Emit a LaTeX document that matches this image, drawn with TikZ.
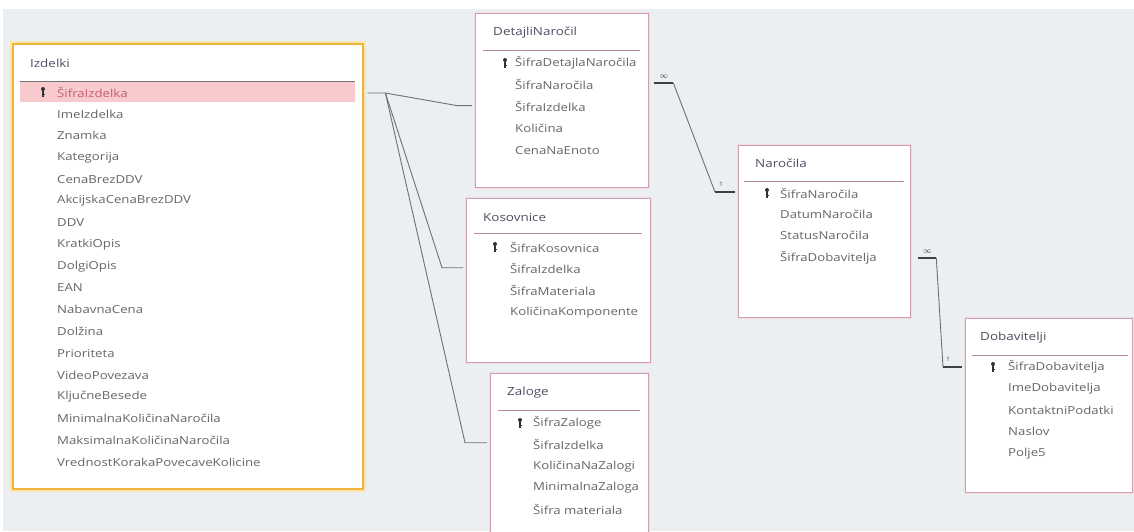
\documentclass[tikz,border=0pt]{standalone}
\usepackage{fontspec}
\setmainfont{Open Sans}
\newfontfamily\widefont[FakeStretch=1.2]{Open Sans}
\usetikzlibrary{calc}
\definecolor{bg}{HTML}{ECEFF2}
\definecolor{txt}{HTML}{666666}
\definecolor{ttl}{HTML}{4E5060}
\definecolor{tborder}{HTML}{CFA0B2}
\definecolor{tglow}{HTML}{F2DDE4}
\definecolor{sep}{HTML}{B88A9A}
\definecolor{oborder}{HTML}{F0B43C}
\definecolor{oglow}{HTML}{FBE6B0}
\definecolor{keyrow}{HTML}{F9CACD}
\definecolor{keytxt}{HTML}{C0606C}
\definecolor{conn}{HTML}{6E7075}
\tikzset{
  tbl/.style={draw=tborder, line width=1.3pt, fill=white, anchor=north west, inner sep=0pt,
    preaction={draw=tglow, line width=3.5pt}},
  otbl/.style={draw=oborder, line width=2.4pt, fill=white, anchor=north west, inner sep=0pt,
    preaction={draw=oglow, line width=6pt}},
  fld/.style={anchor=west, inner sep=0pt, text=txt, font=\widefont\fontsize{11}{12}\selectfont},
  ttlfld/.style={anchor=west, inner sep=0pt, text=ttl, font=\widefont\fontsize{11.2}{12}\selectfont},
  sepline/.style={draw=sep, line width=1pt},
  keyicon/.style={fill=black!80},
  rel/.style={draw=conn, line width=0.9pt},
  stub/.style={draw=black!75, line width=2pt},
  card/.style={inner sep=0pt, text=black!80, font=\fontsize{6}{6}\selectfont}
}
\newcommand{\keyat}[2]{\fill[keyicon] (#1,#2-3) circle (2); \fill[keyicon] (#1-0.7,#2-2) rectangle (#1+0.8,#2+4.5); \fill[keyicon] (#1+0.8,#2+1.5) rectangle (#1+1.8,#2+2.5);}
\begin{document}
\begin{tikzpicture}[x=1pt,y=-1pt]
\useasboundingbox (0,0) rectangle (1134,531);
\fill[white] (0,0) rectangle (1134,531);
\fill[bg] (3,9) rectangle (1134,531);

% ---------------- Izdelki ----------------
\node[otbl, minimum width=350pt, minimum height=445pt] (izdelki) at (12,43) {};
\node[ttlfld] (izdT) at (30,63) {Izdelki};
\fill[keyrow] (20,82) rectangle (355,102);
\draw[draw=black!55, line width=1pt] (20,81) -- (355,81);
\keyat{43}{92}
\node[fld, text=keytxt] (izdk) at (57,92) {ŠifraIzdelka};
\foreach \t [count=\i] in {ImeIzdelka,Znamka,Kategorija,CenaBrezDDV,AkcijskaCenaBrezDDV,DDV,KratkiOpis,DolgiOpis,EAN,NabavnaCena,Dolžina,Prioriteta,VideoPovezava,KljučneBesede,MinimalnaKoličinaNaročila,MaksimalnaKoličinaNaročila,VrednostKorakaPovecaveKolicine}
  {\node[fld] (izd\i) at (57,{92.25+21.75*\i}) {\t};}

% ---------------- DetajliNaročil ----------------
\node[tbl, minimum width=173pt, minimum height=174pt] (det) at (475,13) {};
\node[ttlfld] (detT) at (493,33) {DetajliNaročil};
\draw[sepline] (483,50) -- (640,50);
\keyat{505}{63}
\node[fld] (detk) at (515,63) {ŠifraDetajlaNaročila};
\foreach \t [count=\i] in {ŠifraNaročila,ŠifraIzdelka,Količina,CenaNaEnoto}
  {\node[fld] (det\i) at (515,{63+21.8*\i}) {\t};}

% ---------------- Kosovnice ----------------
\node[tbl, minimum width=184pt, minimum height=164pt] (kos) at (466,198) {};
\node[ttlfld] (kosT) at (483,217) {Kosovnice};
\draw[sepline] (474,233) -- (642,233);
\keyat{495}{247}
\node[fld] (kosk) at (510,247) {ŠifraKosovnica};
\foreach \t [count=\i] in {ŠifraIzdelka,ŠifraMateriala,KoličinaKomponente}
  {\node[fld] (kos\i) at (510,{247+21.7*\i}) {\t};}

% ---------------- Zaloge ----------------
\node[tbl, minimum width=158pt, minimum height=175pt] (zal) at (490,373) {};
\node[ttlfld] (zalT) at (507,393) {Zaloge};
\draw[sepline] (498,410) -- (640,410);
\keyat{520}{423}
\node[fld] (zalk) at (533,423) {ŠifraZaloge};
\foreach \t [count=\i] in {ŠifraIzdelka,KoličinaNaZalogi,MinimalnaZaloga,Šifra materiala}
  {\node[fld] (zal\i) at (533,{423+21.7*\i}) {\t};}

% ---------------- Naročila ----------------
\node[tbl, minimum width=172pt, minimum height=172pt] (nar) at (738,145) {};
\node[ttlfld] (narT) at (755,163) {Naročila};
\draw[sepline] (744,181) -- (904,181);
\keyat{767}{193}
\node[fld] (nark) at (780,193) {ŠifraNaročila};
\foreach \t [count=\i] in {DatumNaročila,StatusNaročila,ŠifraDobavitelja}
  {\node[fld] (nar\i) at (780,{193+21.4*\i}) {\t};}

% ---------------- Dobavitelji ----------------
\node[tbl, minimum width=167pt, minimum height=174pt] (dob) at (965,318) {};
\node[ttlfld] (dobT) at (980,338) {Dobavitelji};
\draw[sepline] (972,355) -- (1128,355);
\keyat{993}{367}
\node[fld] (dobk) at (1008,367) {ŠifraDobavitelja};
\foreach \t [count=\i] in {ImeDobavitelja,KontaktniPodatki,Naslov,Polje5}
  {\node[fld] (dob\i) at (1008,{367+21.6*\i}) {\t};}

% ---------------- Relationships ----------------
\coordinate (a0) at ($(izdelki.east |- izdk)+(3,1)$);
\coordinate (j) at ($(a0)+(18,0)$);
\coordinate (d1) at ($(det.west |- det2)+(-18,-1)$);
\coordinate (d2) at ($(det.west |- det2)+(-3,-1)$);
\draw[rel] (a0) -- (j) -- (d1) -- (d2);
\coordinate (k1) at ($(kos.west |- kos1)+(-24,-1)$);
\coordinate (k2) at ($(kos.west |- kos1)+(-3,-1)$);
\draw[rel] (j) -- (k1) -- (k2);
\coordinate (z1) at ($(zal.west |- zal1)+(-25,-2)$);
\coordinate (z2) at ($(zal.west |- zal1)+(-3,-2)$);
\draw[rel] (j) -- (z1) -- (z2);

% DetajliNaročil -> Naročila
\coordinate (m1) at ($(det.east |- det1)+(5,-2)$);
\coordinate (m2) at ($(det.east |- det1)+(24,-2)$);
\coordinate (n1) at ($(nar.west |- nark)+(-23,-1)$);
\coordinate (n2) at ($(nar.west |- nark)+(-3,-1)$);
\draw[stub] (m1) -- (m2);
\draw[rel] (m2) -- (n1);
\draw[stub] (n1) -- (n2);
\node[card] (inf1) at ($(m1)!0.5!(m2)+(0,-6)$) {\fontsize{8}{8}\selectfont$\infty$};
\node[card] (one1) at ($(n1)+(6,-8)$) {1};

% Naročila -> Dobavitelji
\coordinate (p1) at ($(nar.east |- nar3)+(7,1)$);
\coordinate (p2) at ($(nar.east |- nar3)+(25,1)$);
\coordinate (q1) at ($(dob.west |- dobk)+(-22,0)$);
\coordinate (q2) at ($(dob.west |- dobk)+(-3,0)$);
\draw[stub] (p1) -- (p2);
\draw[rel] (p2) -- (q1);
\draw[stub] (q1) -- (q2);
\node[card] (inf2) at ($(p1)!0.5!(p2)+(0,-6)$) {\fontsize{8}{8}\selectfont$\infty$};
\node[card] (one2) at ($(q1)+(5,-8)$) {1};
\end{tikzpicture}
\end{document}
